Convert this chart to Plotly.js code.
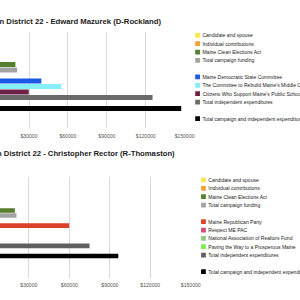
<!DOCTYPE html>
<html>
<head>
<meta charset="utf-8">
<script src="https://cdn.plot.ly/plotly-3.0.1.min.js"></script>
<style>
  html, body { margin: 0; padding: 0; width: 300px; height: 300px; overflow: hidden; background: #fff; }
  #wrap { position: absolute; left: -130px; top: 0; width: 1000px; height: 1025px; transform: scale(0.44); transform-origin: 0 0; }
  #top { position: absolute; left: 0; top: 0; width: 1000px; height: 700px; }
  #bot { position: absolute; left: 0; top: 325px; width: 1000px; height: 700px; }
</style>
</head>
<body>
<div id="wrap"><div id="top"></div><div id="bot"></div></div>
<script>
// ---- data ----
const tickVals = [30000, 60000, 90000, 120000, 150000];
const tickText = ['$30000', '$60000', '$90000', '$120000', '$150000'];

const topTitle = 'Spending in District 22 - Edward Mazurek (D-Rockland)';
const topCampaignNames = ['Candidate and spouse', 'Individual contributions', 'Maine Clean Elections Act', 'Total campaign funding'];
const topCampaignValues = [300, 900, 19500, 20800];
const topIENames = ['Maine Democratic State Committee', "The Committee to Rebuild Maine's Middle Class", "Citizens Who Support Maine's Public Schools", 'Total independent expenditures'];
const topIEValues = [39500, 54800, 29800, 125200];
const topTotalNames = ['Total campaign and independent expenditures'];
const topTotalValues = [147300];

const botTitle = 'Spending in District 22 - Christopher Rector (R-Thomaston)';
const botCampaignNames = ['Candidate and spouse', 'Individual contributions', 'Maine Clean Elections Act', 'Total campaign funding'];
const botCampaignValues = [400, 800, 19650, 20850];
const botIENames = ['Maine Republican Party', 'Respect ME PAC', 'National Association of Realtors Fund', 'Paving the Way to a Prosperous Maine', 'Total independent expenditures'];
const botIEValues = [59900, 5000, 5000, 5100, 75000];
const botTotalNames = ['Total campaign and independent expenditures'];
const botTotalValues = [96300];

// ---- styles ----
const campaignColors = ['#fde74c', '#f0a234', '#557f2c', '#a3a3a3'];
const topIEColors = ['#1c58e6', '#86eef6', '#6d2146', '#6b6b6b'];
const botIEColors = ['#de4129', '#d64c78', '#90c97c', '#7ded4c', '#606060'];
const totalColors = ['#000000'];
const FONT = 'Arial, "Liberation Sans", sans-serif';

function buildTraces(groups) {
  const traces = [];
  let row = 0;
  groups.forEach((g, gi) => {
    g.names.forEach((n, i) => {
      traces.push({
        type: 'bar', orientation: 'h',
        x: [g.values[i]], y: [row],
        name: n, legendgroup: 'g' + gi,
        marker: { color: g.colors[i], line: { width: 0 } },
        width: 0.9, hoverinfo: 'skip'
      });
      row += 1;
    });
    row += 1; // spacer row between groups
  });
  return traces;
}

function makeLayout(o) {
  return {
    width: 1000, height: 700,
    margin: { l: o.l, r: o.r, t: o.t, b: o.b, pad: 0 },
    paper_bgcolor: '#fff', plot_bgcolor: '#fff',
    barmode: 'overlay', showlegend: true,
    font: { family: FONT, color: '#222' },
    title: {
      text: '<b>' + o.title + '</b>',
      font: { family: FONT, size: 17.5, color: '#222' },
      xref: 'container', x: o.tx, xanchor: 'right',
      yref: 'container', y: o.ty, yanchor: 'middle'
    },
    xaxis: {
      range: [0, 150000], tickvals: tickVals, ticktext: tickText,
      showgrid: true, gridcolor: '#d9d9d9', gridwidth: 2.3,
      zeroline: false, showline: false,
      ticks: 'outside', ticklen: o.tl, tickcolor: 'rgba(0,0,0,0)',
      tickfont: { family: FONT, size: 11.6, color: '#555' },
      fixedrange: true
    },
    yaxis: {
      range: o.yr, showticklabels: false, showgrid: false, zeroline: false,
      showline: false, ticks: '', fixedrange: true
    },
    legend: {
      xref: 'container', yref: 'container',
      x: o.lx, y: o.ly, xanchor: 'left', yanchor: 'top',
      traceorder: 'grouped', tracegroupgap: 18.7, maxheight: 1,
      font: { family: FONT, size: 11.5, color: '#222' },
      bgcolor: 'rgba(0,0,0,0)', borderwidth: 0
    }
  };
}

const topTraces = buildTraces([
  { names: topCampaignNames, values: topCampaignValues, colors: campaignColors },
  { names: topIENames, values: topIEValues, colors: topIEColors },
  { names: topTotalNames, values: topTotalValues, colors: totalColors }
]);
const botTraces = buildTraces([
  { names: botCampaignNames, values: botCampaignValues, colors: campaignColors },
  { names: botIENames, values: botIEValues, colors: botIEColors },
  { names: botTotalNames, values: botTotalValues, colors: totalColors }
]);

const topLayout = makeLayout({
  l: 272.7, r: 272.7, t: 72.7, b: 409.1, tl: 7,
  title: topTitle, tx: 0.6614, ty: 0.9319,
  yr: [13.545, -3.909], lx: 0.7155, ly: 0.9061
});
const botLayout = makeLayout({
  l: 269.3, r: 259.1, t: 77.3, b: 393.2, tl: 5,
  title: botTitle, tx: 0.6925, ty: 0.9676,
  yr: [15.35, -4.62], lx: 0.7289, ly: 0.9006
});

const cfg = { staticPlot: true, displayModeBar: false };

function tweakLegend(id) {
  document.querySelectorAll('#' + id + ' .legend .legendpoints path').forEach(p => {
    const t = p.getAttribute('transform') || '';
    p.setAttribute('transform', t + ' translate(9,0) scale(0.9)');
  });
}

Plotly.newPlot('top', topTraces, topLayout, cfg).then(() => tweakLegend('top'));
Plotly.newPlot('bot', botTraces, botLayout, cfg).then(() => tweakLegend('bot'));
</script>
</body>
</html>
